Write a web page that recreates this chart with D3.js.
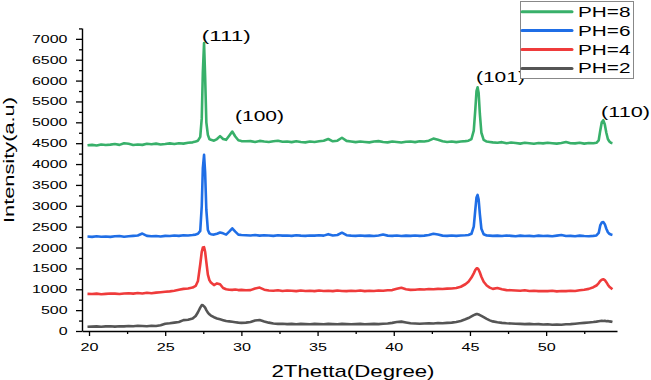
<!DOCTYPE html>
<meta charset="utf-8">
<style>
  body { margin: 0; background: #fff; }
  text { font-family: "Liberation Sans", Arial, sans-serif; fill: #000; }
</style>
<body>
<script src="https://d3js.org/d3.v7.min.js"></script>
<script>

// 2-theta positions shared by all four scans
var twoTheta = [
  19.9, 20.2, 20.5, 20.8, 21.1, 21.4, 21.7, 22.0, 22.3, 22.6, 22.9, 23.2, 23.5, 23.8, 24.1, 24.4, 24.7, 25.0, 25.3, 25.6, 25.9, 26.2, 26.5, 26.8,
  27.0, 27.15, 27.3, 27.4, 27.47, 27.55, 27.62, 27.7, 27.8, 27.9, 28.0,
  28.2, 28.4, 28.6, 28.8, 29.0, 29.2, 29.4, 29.6, 29.8, 30.0,
  30.3, 30.6, 30.9, 31.2, 31.5, 31.8, 32.1, 32.4, 32.7, 33.0, 33.3, 33.6, 33.9, 34.2, 34.5, 34.8, 35.1, 35.4, 35.7, 36.0, 36.3, 36.6, 36.9, 37.2, 37.5,
  37.8, 38.1, 38.4, 38.7, 39.0, 39.3, 39.6, 39.9, 40.2, 40.5, 40.8, 41.1, 41.4, 41.7, 42.0, 42.3, 42.6, 42.9, 43.2, 43.5, 43.8, 44.1, 44.4, 44.7,
  44.9, 45.1, 45.25, 45.35, 45.43, 45.5, 45.57, 45.65, 45.75, 45.9, 46.1, 46.3, 46.5,
  46.8, 47.1, 47.4, 47.7, 48.0, 48.3, 48.6, 48.9, 49.2, 49.5, 49.8, 50.1, 50.4, 50.7, 51.0, 51.3, 51.6, 51.9, 52.2, 52.5, 52.8, 53.1,
  53.3, 53.45, 53.55, 53.65, 53.75, 53.85, 53.95, 54.05, 54.15, 54.25, 54.35
];

var ph8 = [
  4450, 4460, 4445, 4470, 4455, 4465, 4480, 4460, 4500, 4485, 4455, 4470, 4460, 4485, 4475, 4490, 4470, 4480, 4495, 4480, 4500, 4490, 4510, 4520,
  4540, 4560, 4650, 5100, 6200, 6900, 6100, 5000, 4700, 4600, 4580,
  4560, 4600, 4670, 4600, 4580, 4680, 4780, 4660, 4570, 4550,
  4545, 4550, 4530, 4555, 4540, 4530, 4545, 4560, 4535, 4540, 4525, 4545, 4530, 4520, 4540, 4530, 4545, 4560, 4600, 4545, 4560, 4630, 4555, 4540, 4525,
  4540, 4530, 4520, 4540, 4550, 4530, 4520, 4540, 4530, 4515, 4535, 4540, 4525, 4545, 4540, 4560, 4610, 4580, 4545, 4530, 4540, 4525, 4540, 4550,
  4560, 4600, 4800, 5300, 5750, 5840, 5700, 5200, 4750, 4580, 4540, 4530, 4520,
  4510, 4525, 4500, 4515, 4505, 4490, 4510, 4500, 4485, 4505, 4495, 4510, 4500, 4490, 4505, 4530, 4500, 4495, 4510, 4490, 4505, 4500,
  4510, 4570, 4800, 5000, 5050, 4950, 4750, 4600, 4540, 4510, 4500
];

var ph6 = [
  2265, 2255, 2270, 2260, 2265, 2255, 2270, 2275, 2260, 2270, 2280, 2290, 2335, 2280, 2270, 2275, 2265, 2280, 2275, 2290, 2280, 2295, 2290, 2300,
  2310, 2330, 2400, 3000, 3900, 4220, 3800, 2900, 2420, 2340, 2320,
  2310, 2330, 2360, 2340, 2310, 2380, 2460, 2380, 2310, 2300,
  2295, 2290, 2300, 2285, 2295, 2290, 2280, 2295, 2285, 2290, 2280, 2295, 2285, 2280, 2290, 2285, 2295, 2285, 2320, 2290, 2300, 2355, 2295, 2285, 2280,
  2290, 2280, 2285, 2275, 2290, 2310, 2285, 2280, 2290, 2275, 2285, 2280, 2290, 2280, 2285, 2300, 2330, 2310, 2285, 2280, 2290, 2280, 2290, 2295,
  2300, 2330, 2500, 2900, 3200, 3260, 3150, 2800, 2450, 2320, 2290, 2285, 2280,
  2285, 2275, 2290, 2280, 2270, 2285, 2275, 2280, 2270, 2285, 2275, 2280, 2270, 2285, 2300, 2275, 2280, 2270, 2285, 2275, 2270, 2280,
  2290, 2350, 2530, 2600, 2610, 2560, 2450, 2370, 2330, 2310, 2300
];

var ph4 = [
  890, 885, 895, 880, 890, 900, 895, 885, 900, 905, 895, 910, 900, 915, 905, 920, 930, 940, 950, 965, 990, 1010, 1020, 1040,
  1080, 1200, 1600, 1900, 2000, 2010, 1900, 1650, 1350, 1220, 1160,
  1100, 1140, 1120, 1030, 1000, 990, 985, 995, 980, 985,
  975, 980, 1020, 1040, 990, 970, 965, 975, 960, 970, 965, 955, 970, 960, 965, 955, 970, 960, 965, 955, 970, 960, 955, 965, 960,
  970, 955, 965, 960, 970, 965, 975, 980, 1010, 1035, 1000, 985, 990, 1000, 995, 1005, 1000, 1010, 1005, 1015, 1020, 1030, 1060, 1120,
  1180, 1280, 1380, 1460, 1500, 1500, 1470, 1400, 1300, 1180, 1090, 1040, 1010,
  1030, 1000, 980, 975, 970, 965, 975, 960, 965, 955, 960, 955, 965, 950, 960, 955, 965, 960, 975, 990, 1010, 1050,
  1090, 1150, 1200, 1230, 1240, 1220, 1170, 1110, 1060, 1030, 1000
];

var ph2 = [
  100, 105, 110, 100, 110, 115, 105, 115, 110, 120, 115, 125, 120, 115, 125, 120, 140, 175, 185, 200, 215, 260, 270, 300,
  360, 450, 560, 620, 615, 590, 560, 500, 440, 400, 370,
  330, 300, 280, 260, 240, 230, 220, 210, 200, 195,
  200, 215, 250, 265, 230, 200, 180, 170, 175, 165, 170, 160, 170, 165, 160, 170, 165, 160, 170, 165, 160, 170, 165, 160, 165,
  170, 160, 165, 170, 165, 175, 180, 195, 215, 225, 205, 185, 180, 175, 180, 185, 180, 190, 185, 195, 200, 215, 240, 280,
  310, 350, 380, 395, 405, 405, 395, 380, 360, 330, 290, 255, 230,
  210, 195, 185, 180, 175, 170, 165, 170, 160, 165, 155, 160, 150, 155, 150, 160, 165, 175, 185, 195, 205, 215,
  225, 235, 240, 245, 240, 245, 235, 240, 230, 225, 215
];

var seriesNames = ["PH=8", "PH=6", "PH=4", "PH=2"];
var seriesColors = ["#38b06a", "#1f6ee6", "#ef3b3b", "#555555"];
var seriesValues = [ph8, ph6, ph4, ph2];

var xTicks = [20, 25, 30, 35, 40, 45, 50];
var yTicks = d3.range(0, 7001, 500);

// peak labels: [text, 2theta, intensity at baseline]
var peakLabels = [
  ["(111)", 27.4, 6960],
  ["(100)", 29.58, 5030],
  ["(101)", 45.39, 5970],
  ["(110)", 53.6, 5130]
];

var width = 651, height = 380;

var x = d3.scaleLinear().domain([19.54, 54.65]).range([82, 617]);
var y = d3.scaleLinear().domain([0, 7260]).range([331, 28]);

var svg = d3.select("body").append("svg")
    .attr("width", width)
    .attr("height", height);

// the picture is wider than normal, so text gets stretched sideways
function stretch(sel, factor) {
  sel.each(function() {
    var len = this.getComputedTextLength();
    d3.select(this)
      .attr("textLength", len * factor)
      .attr("lengthAdjust", "spacingAndGlyphs");
  });
}

// curves
var line = d3.line()
    .x(function(d, i) { return x(twoTheta[i]); })
    .y(function(d) { return y(d); });

// draw bottom first so green sits on top
for (var s = seriesValues.length - 1; s >= 0; s--) {
  svg.append("path")
      .datum(seriesValues[s])
      .attr("fill", "none")
      .attr("stroke", seriesColors[s])
      .attr("stroke-width", 2.6)
      .attr("stroke-linejoin", "round")
      .attr("d", line);
}

// x axis, minor ticks
svg.append("g")
    .attr("transform", "translate(0,331)")
    .call(d3.axisBottom(x).tickValues(d3.range(22.5, 54, 5)).tickSize(3).tickFormat(""))
    .call(function(g) { g.select(".domain").remove(); })
    .selectAll("line").attr("stroke-width", 1.3);

// x axis, major
var gx = svg.append("g")
    .attr("transform", "translate(0,331)")
    .call(d3.axisBottom(x).tickValues(xTicks).tickSize(5).tickSizeOuter(0).tickPadding(7));
gx.select(".domain").attr("stroke-width", 1.4);
gx.selectAll("line").attr("stroke-width", 1.3);
gx.selectAll("text")
    .style("font-family", "Liberation Sans, Arial, sans-serif")
    .style("font-size", "11px")
    .call(stretch, 1.47);

// y axis, minor
svg.append("g")
    .attr("transform", "translate(82,0)")
    .call(d3.axisLeft(y).tickValues(d3.range(250, 7260, 500)).tickSize(3).tickFormat(""))
    .call(function(g) { g.select(".domain").remove(); })
    .selectAll("line").attr("stroke-width", 1.3);

// y axis, major
var gy = svg.append("g")
    .attr("transform", "translate(82,0)")
    .call(d3.axisLeft(y).tickValues(yTicks).tickSize(6).tickSizeOuter(0).tickPadding(8.5).tickFormat(d3.format("d")));
gy.select(".domain").attr("stroke-width", 1.4);
gy.selectAll("line").attr("stroke-width", 1.3);
gy.selectAll("text")
    .style("font-family", "Liberation Sans, Arial, sans-serif")
    .style("font-size", "11px")
    .call(stretch, 1.45);

// axis titles
svg.append("text")
    .attr("x", 353)
    .attr("y", 376.5)
    .attr("text-anchor", "middle")
    .style("font-size", "17px")
    .attr("textLength", 163)
    .attr("lengthAdjust", "spacingAndGlyphs")
    .text("2Thetta(Degree)");

svg.append("text")
    .attr("transform", "translate(13.5,160) rotate(-90)")
    .attr("text-anchor", "middle")
    .style("font-size", "14px")
    .attr("textLength", 126)
    .attr("lengthAdjust", "spacingAndGlyphs")
    .text("Intensity(a.u)");

// peak labels
svg.selectAll(".peak")
    .data(peakLabels)
  .enter().append("text")
    .attr("class", "peak")
    .attr("x", function(d) { return x(d[1]); })
    .attr("y", function(d) { return y(d[2]); })
    .style("font-size", "14px")
    .attr("textLength", 49)
    .attr("lengthAdjust", "spacingAndGlyphs")
    .text(function(d) { return d[0]; });

// legend
var legend = svg.append("g");
legend.append("rect")
    .attr("x", 520.5)
    .attr("y", 1.5)
    .attr("width", 113)
    .attr("height", 77)
    .attr("fill", "#fff")
    .attr("stroke", "#888")
    .attr("stroke-width", 1);

var item = legend.selectAll(".item")
    .data(seriesNames)
  .enter().append("g")
    .attr("class", "item")
    .attr("transform", function(d, i) { return "translate(0," + (11.7 + i * 18.9) + ")"; });

item.append("line")
    .attr("x1", 522)
    .attr("x2", 572)
    .attr("stroke", function(d, i) { return seriesColors[i]; })
    .attr("stroke-width", 3)
    .attr("stroke-linecap", "round");

item.append("text")
    .attr("x", 578)
    .attr("y", 5)
    .style("font-size", "14px")
    .attr("textLength", 52.5)
    .attr("lengthAdjust", "spacingAndGlyphs")
    .text(function(d) { return d; });

</script>
</body>
